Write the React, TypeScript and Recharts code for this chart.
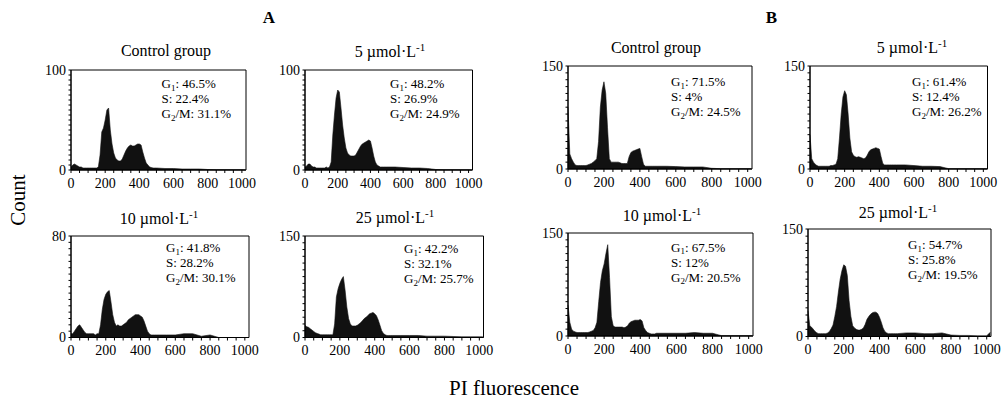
import React from 'react';
import { AreaChart, Area, XAxis, YAxis, ReferenceArea } from 'recharts';

const SERIF = '"Liberation Serif", "Times New Roman", Times, serif';

// PI fluorescence channels (bins)
const bins = [
  0, 10, 20, 30, 40, 50, 60, 70, 80, 90,
  100, 110, 120, 130, 140, 150, 160, 170, 180, 190,
  200, 210, 220, 230, 240, 250, 260, 270, 280, 290,
  300, 310, 320, 330, 340, 350, 360, 370, 380, 390,
  400, 410, 420, 430, 440, 450, 460, 470, 480, 490,
  500, 550, 600, 650, 700, 750, 800, 850, 900, 950, 1000, 1020,
];

// A: control group
const countsACtrl = [
  3, 5, 6, 5, 4, 3, 3, 2, 2, 2,
  2, 2, 2, 2, 2, 2, 3, 15, 38, 42,
  50, 60, 62, 40, 26, 17, 12, 10, 9, 9,
  11, 15, 19, 22, 24, 25, 24, 24, 25, 26,
  26, 25, 18, 12, 7, 5, 3, 2.5, 2, 2,
  2, 1.5, 1.5, 1, 1, 1, 0.5, 0.3, 0.3, 0.2, 0.2, 0,
];
// A: 5 umol/L
const countsA5 = [
  3, 4, 6, 6, 4, 3, 3, 2, 2, 2,
  2, 2, 2, 3, 2, 3, 8, 35, 55, 72,
  80, 78, 62, 45, 32, 22, 17, 15, 14, 14,
  14, 15, 18, 21, 24, 26, 27, 28, 29, 30,
  29, 22, 14, 8, 5, 4, 3, 3, 3, 3,
  3, 3, 2.5, 2, 2, 1.5, 0.5, 0.3, 0.3, 0.2, 0.2, 0,
];
// A: 10 umol/L
const countsA10 = [
  3, 3, 5, 7, 9, 10, 8, 6, 4, 3,
  3, 3, 3, 3, 2, 3, 3, 10, 22, 30,
  34, 36, 37, 28, 18, 12, 9, 10, 9, 9,
  10, 11, 12, 14, 15, 16, 17, 18, 18, 18,
  17, 16, 13, 9, 5, 3, 2, 2, 2, 2,
  2, 2, 2, 3, 3, 1, 2, 0, 0, 0, 0, 0,
];
// A: 25 umol/L
const countsA25 = [
  18, 16, 15, 13, 11, 9, 7, 6, 5, 4,
  4, 4, 4, 4, 4, 4, 4, 20, 60, 72,
  80, 86, 90, 70, 45, 28, 20, 17, 17, 17,
  18, 20, 22, 25, 28, 30, 32, 35, 36, 37,
  35, 32, 26, 18, 10, 6, 4, 3, 3, 3,
  3, 3, 3, 3, 2, 2, 2, 1.5, 1, 1, 1, 1,
];
// B: control group
const countsBCtrl = [
  90, 22, 15, 10, 6, 5, 5, 5, 5, 5,
  5, 6, 7, 8, 10, 12, 15, 40, 90, 115,
  127, 110, 60, 15, 10, 10, 10, 10, 10, 9,
  8, 8, 8, 8, 18, 24, 26, 27, 28, 29,
  30, 18, 7, 4, 4, 4, 4, 4, 4, 4,
  4, 4, 3.5, 3, 3, 3, 1, 0.5, 0.5, 0.5, 0.5, 0.5,
];
// B: 5 umol/L
const countsB5 = [
  50, 15, 10, 7, 5, 4, 4, 4, 4, 4,
  4, 4, 5, 5, 6, 7, 15, 45, 80, 105,
  114, 108, 80, 45, 25, 20, 18, 17, 18, 17,
  16, 15, 16, 20, 25, 28, 29, 30, 31, 30,
  29, 18, 8, 6, 6, 6, 6, 6, 6, 6,
  6, 6, 5, 4, 4, 3.5, 0.5, 0.5, 0.5, 0.5, 0.5, 0.5,
];
// B: 10 umol/L
const countsB10 = [
  45, 20, 10, 7, 6, 5, 5, 5, 5, 5,
  5, 5, 6, 7, 8, 12, 20, 50, 78, 95,
  105, 120, 133, 85, 28, 15, 13, 13, 13, 13,
  13, 12, 13, 15, 19, 21, 22, 23, 23, 23,
  24, 22, 12, 8, 5, 4, 3, 3, 3, 4,
  4, 4, 4, 4, 5, 4, 4, 0.5, 0.5, 0.5, 0.5, 0.5,
];
// B: 25 umol/L
const countsB25 = [
  36, 15, 13, 10, 7, 5, 4, 4, 4, 4,
  4, 5, 7, 11, 16, 28, 42, 62, 80, 92,
  100, 98, 85, 50, 28, 15, 12, 10, 9, 9,
  10, 12, 17, 24, 28, 31, 33, 34, 34, 32,
  27, 20, 12, 7, 5, 4, 4, 4, 4, 4,
  4, 5, 5, 4, 4, 5, 2, 1.5, 1.5, 1, 1, 6,
];

const xTickLabels = [0, 200, 400, 600, 800, 1000];
const panelTitles = ['Control group', '5', '10', '25', 'Control group', '5', '10', '25'];
const yMaxLabels = [100, 100, 80, 150, 150, 150, 150, 150];
const g1Values = ['46.5%', '48.2%', '41.8%', '42.2%', '71.5%', '61.4%', '67.5%', '54.7%'];
const sValues = ['22.4%', '26.9%', '28.2%', '32.1%', '4%', '12.4%', '12%', '25.8%'];
const g2mValues = ['31.1%', '24.9%', '30.1%', '25.7%', '24.5%', '26.2%', '20.5%', '19.5%'];
const allCounts = [countsACtrl, countsA5, countsA10, countsA25, countsBCtrl, countsB5, countsB10, countsB25];

// layout: box [left, top, right, bottom], title [cx, baseline], stats [x, baseline]
const layout = [
  { box: [71, 69.5, 246, 169.5], title: [166, 56], stats: [161.5, 88] },
  { box: [304.5, 69.5, 472, 169.5], title: [390, 56.5], stats: [390, 88] },
  { box: [71, 235.5, 249, 337], title: [159, 224], stats: [166, 252] },
  { box: [304.5, 235.5, 483, 337], title: [395, 223], stats: [404, 253] },
  { box: [568, 65.5, 752, 168.5], title: [656, 53], stats: [671, 86] },
  { box: [809.5, 65.5, 987, 168.5], title: [912, 53], stats: [912, 86] },
  { box: [568, 233, 753, 336], title: [662, 220.5], stats: [671, 251.5] },
  { box: [808, 228.5, 991, 336], title: [898, 218], stats: [908, 249] },
];

const xMinorTicks = Array.from({ length: 21 }, (_, i) => i * 50);

const YW = 34;
const MT = 8;
const MR = 18;
const XH = 24;

function Panel({ idx }: { idx: number }) {
  const [l, t, r, b] = layout[idx].box;
  const w = r - l;
  const h = b - t;
  const ymax = yMaxLabels[idx];
  const step = ymax === 150 ? 10 : 5;
  const yTicks = Array.from({ length: ymax / step + 1 }, (_, i) => i * step);
  const counts = allCounts[idx];
  const data = bins.map((ch, i) => ({ ch, count: counts[i] }));
  const xTick = (p: any) =>
    xTickLabels.includes(p.payload.value) ? (
      <text x={p.x} y={p.y} dy="0.71em" textAnchor="middle" fontSize={14} fontFamily={SERIF} fill="#000">
        {p.payload.value}
      </text>
    ) : (
      <g />
    );
  const yTick = (p: any) =>
    p.payload.value === 0 || p.payload.value === ymax ? (
      <text x={p.x} y={p.y} dy="0.35em" textAnchor="end" fontSize={14} fontFamily={SERIF} fill="#000">
        {p.payload.value}
      </text>
    ) : (
      <g />
    );
  return (
    <div style={{ position: 'absolute', left: l - YW, top: t - MT }}>
      <AreaChart
        width={YW + w + MR}
        height={MT + h + XH}
        data={data}
        margin={{ top: MT, right: MR, left: 0, bottom: 0 }}
      >
        <XAxis
          dataKey="ch"
          type="number"
          domain={[0, 1024]}
          ticks={xMinorTicks}
          interval={0}
          tick={xTick}
          tickSize={3}
          tickMargin={5}
          height={XH}
          stroke="#000"
          tickLine={{ stroke: '#000' }}
        />
        <YAxis
          type="number"
          domain={[0, ymax]}
          ticks={yTicks}
          interval={0}
          tick={yTick}
          tickSize={2.5}
          tickMargin={2.5}
          width={YW}
          stroke="#000"
          tickLine={{ stroke: '#000' }}
        />
        <Area
          type="linear"
          dataKey="count"
          stroke="#111"
          strokeWidth={0.6}
          fill="#111"
          fillOpacity={1}
          dot={false}
          activeDot={false}
          isAnimationActive={false}
        />
        <ReferenceArea x1={0} x2={1024} y1={0} y2={ymax} fill="#fff" fillOpacity={0} stroke="#000" strokeWidth={1} />
      </AreaChart>
    </div>
  );
}

function Title({ idx }: { idx: number }) {
  const [cx, by] = layout[idx].title;
  const name = panelTitles[idx];
  if (name === 'Control group') {
    return (
      <text x={cx} y={by} textAnchor="middle" fontSize={16}>
        {name}
      </text>
    );
  }
  return (
    <text x={cx} y={by} textAnchor="middle" fontSize={16}>
      {name} µmol·L
      <tspan fontSize={11} dy={-6}>
        -1
      </tspan>
    </text>
  );
}

function Stats({ idx }: { idx: number }) {
  const [x, y] = layout[idx].stats;
  const gap = 15;
  return (
    <g fontSize={13}>
      <text x={x} y={y}>
        G<tspan fontSize={9} dy={2.5}>1</tspan>
        <tspan dy={-2.5}>: {g1Values[idx]}</tspan>
      </text>
      <text x={x} y={y + gap}>S: {sValues[idx]}</text>
      <text x={x} y={y + 2 * gap}>
        G<tspan fontSize={9} dy={2.5}>2</tspan>
        <tspan dy={-2.5}>/M: {g2mValues[idx]}</tspan>
      </text>
    </g>
  );
}

export default function App() {
  const idxs = [0, 1, 2, 3, 4, 5, 6, 7];
  return (
    <div
      style={{
        position: 'absolute',
        left: 0,
        top: 0,
        width: 1008,
        height: 401,
        background: '#fff',
        overflow: 'hidden',
        fontFamily: SERIF,
      }}
    >
      {idxs.map((i) => (
        <Panel key={i} idx={i} />
      ))}
      <svg
        width={1008}
        height={401}
        style={{ position: 'absolute', left: 0, top: 0, pointerEvents: 'none' }}
        fontFamily={SERIF}
        fill="#000"
      >
        <text x={269} y={23} textAnchor="middle" fontSize={17} fontWeight="bold">A</text>
        <text x={771.5} y={23} textAnchor="middle" fontSize={17} fontWeight="bold">B</text>
        {idxs.map((i) => (
          <Title key={'t' + i} idx={i} />
        ))}
        {idxs.map((i) => (
          <Stats key={'s' + i} idx={i} />
        ))}
        <text x={25} y={200} textAnchor="middle" fontSize={21} transform="rotate(-90 25 200)">
          Count
        </text>
        <text x={514} y={395} textAnchor="middle" fontSize={21}>
          PI fluorescence
        </text>
      </svg>
    </div>
  );
}
